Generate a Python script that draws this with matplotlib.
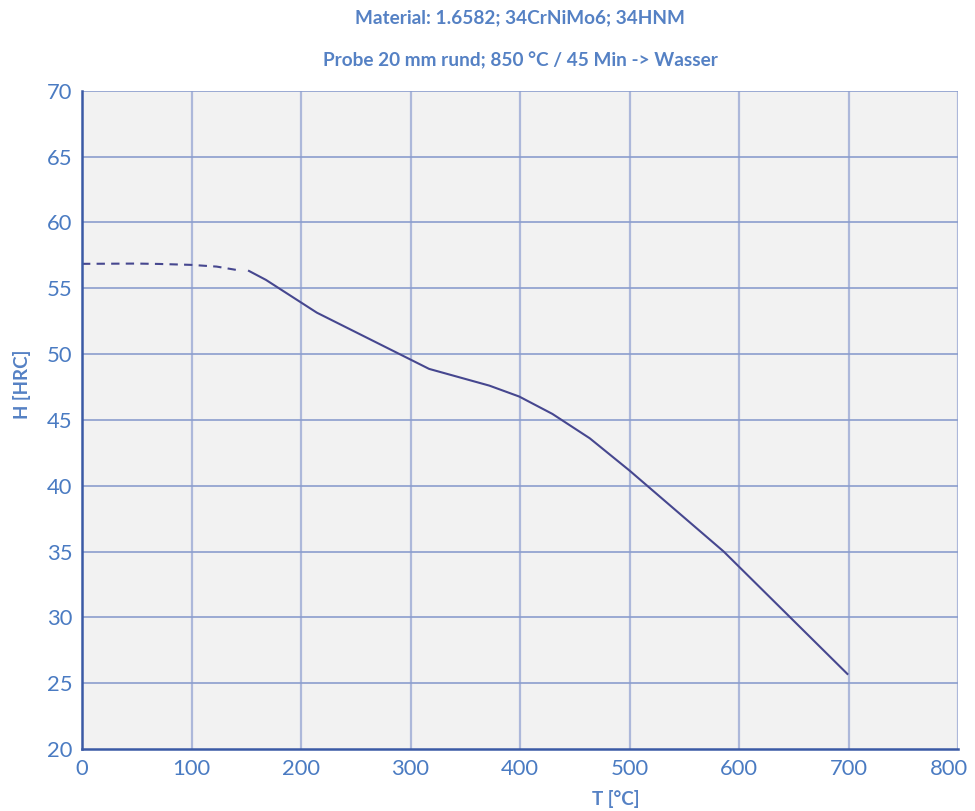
import matplotlib
matplotlib.use("Agg")
import matplotlib.pyplot as plt
import matplotlib.transforms as mtransforms

plt.rcParams['font.family'] = ['Lato', 'DejaVu Sans']

# Data
dashed_T = [0, 50, 71, 100, 123, 145]
dashed_H = [56.85, 56.87, 56.84, 56.77, 56.64, 56.33]
solid_T = [152.5, 168, 214.5, 317, 372, 399.3, 429.6, 463.7, 500, 586, 699]
solid_H = [56.31, 55.63, 53.14, 48.87, 47.6, 46.77, 45.45, 43.6, 41.15, 35.0, 25.7]

xticks = [0, 100, 200, 300, 400, 500, 600, 700, 800]
yticks = [20, 25, 30, 35, 40, 45, 50, 55, 60, 65, 70]

title1 = "Material: 1.6582; 34CrNiMo6; 34HNM"
title2 = "Probe 20 mm rund; 850 °C / 45 Min -> Wasser"
xlabel = "T [°C]"
ylabel = "H [HRC]"

line_color = "#46478f"
text_color = "#4a7bc2"
title_color = "#5581c4"

fig = plt.figure(figsize=(9.75, 8.11), dpi=100)
ax = fig.add_axes([82/975, 1-749/811, (958-82)/975, (749-90.7)/811])
ax.set_facecolor("#f2f2f2")

ax.set_xlim(0, 800)
ax.set_ylim(20, 70)
ax.set_xticks(xticks)
ax.set_yticks(yticks)
ax.tick_params(axis='both', length=0, labelsize=15.8, labelcolor=text_color)
ax.tick_params(axis='x', pad=7)
ax.tick_params(axis='y', pad=7)

# shift the last x tick label left so it stays inside the figure
last = ax.get_xticklabels()[-1]
last.set_transform(last.get_transform() +
                   mtransforms.ScaledTranslation(-9/100, 0, fig.dpi_scale_trans))

for t in xticks[1:]:
    ax.axvline(t, color="#adb8da", lw=1.6, zorder=1)
for v in yticks[1:]:
    ax.axhline(v, color="#8b9dcd", lw=1.2, zorder=1)

for s in ['top', 'right']:
    ax.spines[s].set_visible(False)
for s in ['left', 'bottom']:
    ax.spines[s].set_color("#3b5aa5")
    ax.spines[s].set_linewidth(1.8)
    ax.spines[s].set_zorder(3)

ax.plot(dashed_T, dashed_H, color=line_color, lw=1.5, dashes=(4, 3), zorder=2)
ax.plot(solid_T, solid_H, color=line_color, lw=1.5, zorder=2)

fig.text(520/975, 1-18/811, title1, ha='center', va='center', fontsize=13.7,
         fontweight='bold', color=title_color)
fig.text(520/975, 1-60/811, title2, ha='center', va='center', fontsize=13.7,
         fontweight='bold', color=title_color)
fig.text(616/975, 1-799/811, xlabel, ha='center', va='center', fontsize=13.5,
         fontweight='bold', color=title_color)
fig.text(22/975, 1-384/811, ylabel, ha='center', va='center', fontsize=13.5,
         fontweight='bold', color=title_color, rotation=90)

fig.savefig("out.png", dpi=100)
